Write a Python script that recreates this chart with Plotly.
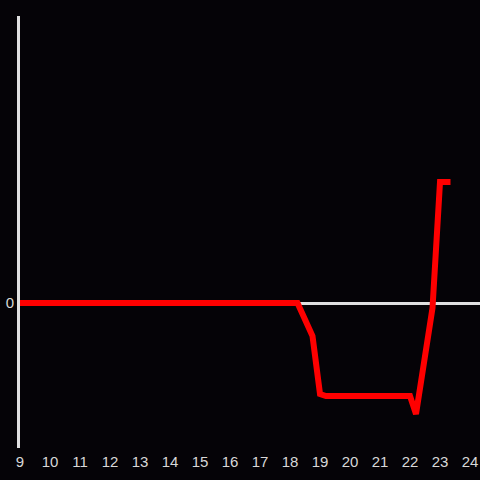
import plotly.graph_objects as go

hours = [9, 18.25, 18.75, 19.0, 19.2, 22.0, 22.2, 22.75, 23.0, 23.35]
values = [0, 0, -3.3, -9.1, -9.3, -9.3, -11.1, -0.5, 12.1, 12.1]
x_ticks = list(range(9, 25))

fig = go.Figure()
fig.add_trace(go.Scatter(x=hours, y=values, mode="lines",
                         line=dict(color="#ff0000", width=6), hoverinfo="skip"))

fig.update_layout(
    width=480, height=480,
    margin=dict(l=20, r=0, t=16, b=32, autoexpand=False),
    paper_bgcolor="#050307", plot_bgcolor="#050307",
    showlegend=False,
    font=dict(family="Liberation Sans", size=15, color="#d8d8d8"),
    xaxis=dict(range=[9, 24.333], tickvals=x_ticks, ticktext=[str(t) for t in x_ticks],
               showgrid=False, zeroline=False, showline=False, ticks="", automargin=False,
               ticklabelstandoff=3,
               tickfont=dict(family="Liberation Sans", size=15, color="#d8d8d8")),
    yaxis=dict(range=[-14.5, 28.7], tickvals=[0], ticktext=["0"], automargin=False,
               showgrid=False, zeroline=True, zerolinecolor="#e0e0e0", zerolinewidth=3,
               showline=True, linecolor="#e0e0e0", linewidth=3, ticks="",
               tickfont=dict(family="Liberation Sans", size=15, color="#d8d8d8")),
)
fig.write_html("out.html", config={"displayModeBar": False},
               post_script="document.body.style.margin='0';document.body.style.background='#050307';")
